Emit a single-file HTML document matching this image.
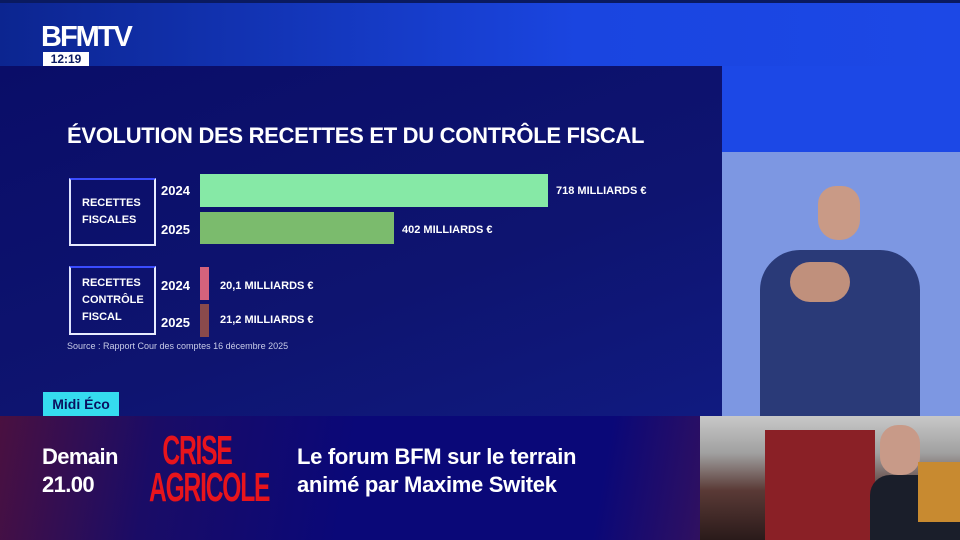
<!DOCTYPE html>
<html><head><meta charset="utf-8"><style>
*{margin:0;padding:0;box-sizing:border-box}
body{width:960px;height:540px;overflow:hidden;position:relative;background:#0a0d68;font-family:"Liberation Sans",sans-serif;font-weight:bold;color:#fff}
.a{position:absolute}
.box{position:absolute;border:2px solid #e8ecff;border-top-color:#3a4cff;border-left-color:#dfe4ff;font-size:11px;line-height:17px;padding-left:11px;display:flex;flex-direction:column;justify-content:center}
.yr{position:absolute;font-size:13px;left:161px}
.lab{position:absolute;font-size:11px}
</style></head><body>
<div class="a" style="left:0;top:0;width:960px;height:66px;background:linear-gradient(90deg,#0c2590,#1a45e0 60%,#1c48e6)"></div>
<div class="a" style="left:0;top:0;width:960px;height:3px;background:#0a1a60"></div>
<div class="a" style="left:722px;top:66px;width:238px;height:86px;background:#1c48e6"></div>
<div class="a" style="left:722px;top:152px;width:238px;height:264px;background:#7d97e2"></div>
<div class="a" style="left:0;top:66px;width:722px;height:350px;background:linear-gradient(160deg,#0a0d68,#0e1470 60%,#101a80)"></div>
<div class="a" style="left:41px;top:21px;font-size:29px;letter-spacing:-2px;line-height:32px">BFMTV</div>
<div class="a" style="left:43px;top:52px;width:46px;height:14px;background:#fff;color:#0a1a60;font-size:12px;line-height:14px;text-align:center">12:19</div>
<div class="a" style="left:818px;top:186px;width:42px;height:54px;border-radius:18px 18px 20px 20px;background:#c99a86"></div>
<div class="a" style="left:760px;top:250px;width:160px;height:166px;border-radius:40px 40px 0 0;background:#2a3a78"></div>
<div class="a" style="left:790px;top:262px;width:60px;height:40px;border-radius:20px;background:#c0907c"></div>
<div class="a" style="left:67px;top:123px;font-size:22px;letter-spacing:-0.3px">ÉVOLUTION DES RECETTES ET DU CONTRÔLE FISCAL</div>
<div class="box" style="left:69px;top:178px;width:87px;height:68px">RECETTES<br>FISCALES</div>
<div class="box" style="left:69px;top:266px;width:87px;height:69px">RECETTES<br>CONTRÔLE<br>FISCAL</div>
<div class="yr" style="top:183px">2024</div>
<div class="yr" style="top:222px">2025</div>
<div class="yr" style="top:278px">2024</div>
<div class="yr" style="top:315px">2025</div>
<div class="a" style="left:200px;top:174px;width:348px;height:33px;background:#86e9a6"></div>
<div class="a" style="left:200px;top:212px;width:194px;height:32px;background:#7bbb6d"></div>
<div class="a" style="left:200px;top:267px;width:9px;height:33px;background:#d4627c"></div>
<div class="a" style="left:200px;top:304px;width:9px;height:33px;background:#8a4a4c"></div>
<div class="lab" style="left:556px;top:185px">718 MILLIARDS €</div>
<div class="lab" style="left:402px;top:224px">402 MILLIARDS €</div>
<div class="lab" style="left:220px;top:280px">20,1 MILLIARDS €</div>
<div class="lab" style="left:220px;top:314px">21,2 MILLIARDS €</div>
<div class="a" style="left:67px;top:341px;font-size:9px;font-weight:normal;color:#c8cce8">Source : Rapport Cour des comptes 16 décembre 2025</div>
<div class="a" style="left:0;top:416px;width:700px;height:124px;background:linear-gradient(100deg,#4a1040 0%,#1a0c66 22%,#0a0878 50%,#0a0878 85%,#301060)"></div>
<div class="a" style="left:43px;top:392px;width:76px;height:24px;background:#35dcef;color:#0a1060;font-size:14px;line-height:24px;text-align:center">Midi Éco</div>
<div class="a" style="left:42px;top:443px;font-size:22px;line-height:28px;letter-spacing:-0.6px">Demain<br>21.00</div>
<div class="a" style="left:117px;top:432px;width:160px;text-align:center;font-size:41px;line-height:37px;color:#e8141c;letter-spacing:-2px;transform:scaleX(0.6);transform-origin:center">CRISE<br>AGRICOLE</div>
<div class="a" style="left:297px;top:443px;font-size:22px;line-height:28px;letter-spacing:-0.3px">Le forum BFM sur le terrain<br>animé par Maxime Switek</div>
<div class="a" style="left:700px;top:416px;width:260px;height:124px;background:linear-gradient(180deg,#c8c8c8 0%,#a0a0a0 30%,#5a3a36 60%,#2a1a1a)"></div>
<div class="a" style="left:765px;top:430px;width:110px;height:110px;background:#8a2026"></div>
<div class="a" style="left:880px;top:425px;width:40px;height:50px;border-radius:18px;background:#c89a88"></div>
<div class="a" style="left:870px;top:475px;width:90px;height:65px;border-radius:20px 20px 0 0;background:#1a1e2a"></div>
<div class="a" style="left:918px;top:462px;width:42px;height:60px;background:#c88a30"></div>
</body></html>
